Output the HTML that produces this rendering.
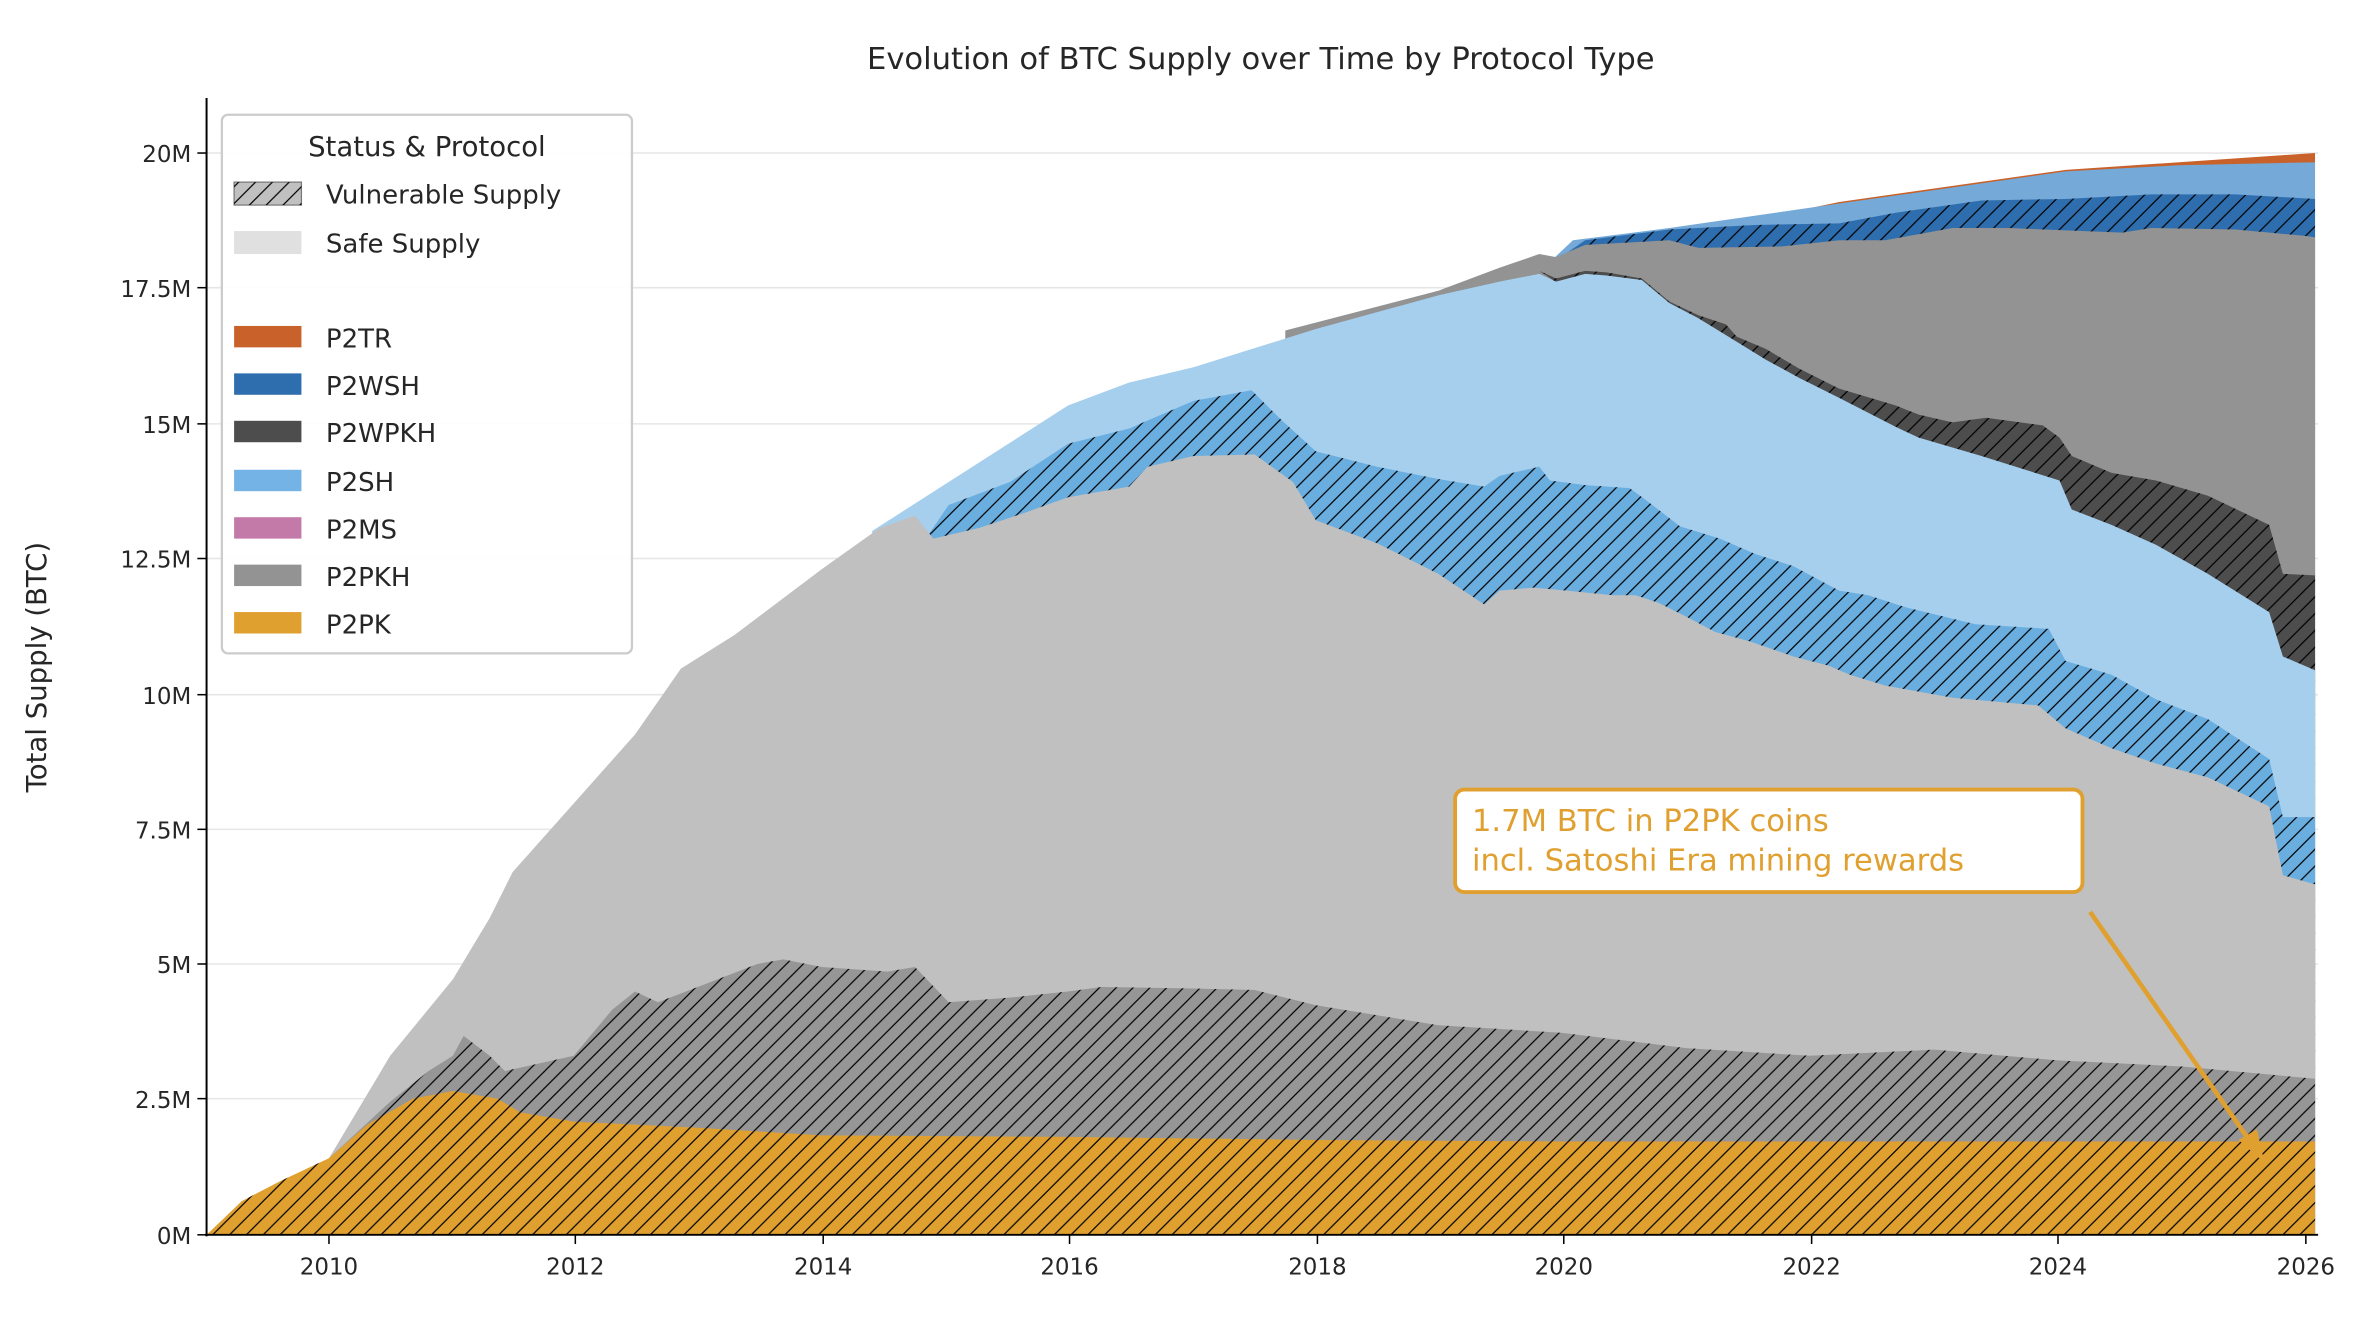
<!DOCTYPE html>
<html><head><meta charset="utf-8"><style>html,body{margin:0;padding:0;background:#fff}svg{display:block}text{font-family:"DejaVu Sans","Liberation Sans",sans-serif;fill:#262626}</style></head><body>
<svg width="2364" height="1319" viewBox="0 0 1545 862" xmlns="http://www.w3.org/2000/svg">
<defs>
<pattern id="h" patternUnits="userSpaceOnUse" width="11" height="11">
<path d="M0,11 L11,0 M-3,3 L3,-3 M8,14 L14,8" stroke="#000" stroke-width="0.8"/>
</pattern>
</defs>
<rect width="1545" height="862" fill="#fff"/>
<g stroke="#e6e6e6" stroke-width="1">
<line x1="135" x2="1515" y1="718" y2="718"/><line x1="135" x2="1515" y1="630" y2="630"/><line x1="135" x2="1515" y1="542" y2="542"/><line x1="135" x2="1515" y1="454" y2="454"/><line x1="135" x2="1515" y1="365" y2="365"/><line x1="135" x2="1515" y1="277" y2="277"/><line x1="135" x2="1515" y1="188" y2="188"/><line x1="135" x2="1515" y1="100" y2="100"/>
</g>
<!-- P2TR -->
<polygon fill="#c8622a" points="1183,136 1202,132 1350,111 1513,100 1513,807 1183,807"/>
<!-- P2WSH safe -->
<polygon fill="#74a9d8" points="1010,174 1028,157 1091,149 1202,133 1350,112 1424,108 1513,106 1513,807 1010,807"/>
<!-- P2WSH vuln -->
<polygon fill="#2f6eae" points="1010,175 1036,157 1091,150 1147,147 1202,146 1239,139 1295,131 1350,130 1406,127 1461,127 1513,130 1513,807 1010,807"/>
<polygon fill="url(#h)" points="1010,175 1036,157 1091,150 1147,147 1202,146 1239,139 1295,131 1350,130 1406,127 1461,127 1513,130 1513,807 1010,807"/>
<!-- P2WPKH safe -->
<polygon fill="#939393" points="840,216 940,190 980,175 1006,166 1017,168 1036,160 1091,157 1110,162 1165,161 1202,157 1232,157 1276,149 1313,149 1387,152 1406,149 1461,150 1505,154 1513,155 1513,807 840,807"/>
<!-- P2WPKH vuln -->
<polygon fill="#4d4d4d" points="1015,183 1006,177 1017,182 1036,177 1050,178 1073,182 1091,197 1110,206 1128,212 1135,220 1154,228 1176,241 1202,254 1239,265 1254,271 1276,276 1298,273 1335,278 1346,286 1354,298 1380,309 1409,314 1443,324 1483,343 1492,375 1513,376 1513,807 1015,807"/>
<polygon fill="url(#h)" points="1015,183 1006,177 1017,182 1036,177 1050,178 1073,182 1091,197 1110,206 1128,212 1135,220 1154,228 1176,241 1202,254 1239,265 1254,271 1276,276 1298,273 1335,278 1346,286 1354,298 1380,309 1409,314 1443,324 1483,343 1492,375 1513,376 1513,807 1015,807"/>
<!-- P2SH safe -->
<polygon fill="#a6cfee" points="570,347 620,315 698,265 738,250 780,240 860,215 940,193 980,184 1006,179 1017,184 1036,179 1050,180 1073,183 1091,198 1110,208 1128,219 1154,235 1176,247 1202,260 1239,279 1254,286 1295,298 1346,314 1354,333 1380,343 1409,356 1443,375 1483,400 1492,429 1513,438 1513,807 570,807"/>
<!-- P2SH vuln -->
<polygon fill="#6aaee0" points="590,345 605,352 620,330 660,315 698,290 738,280 780,262 818,255 838,275 860,295 900,305 940,313 970,318 980,311 1006,305 1013,314 1036,317 1065,319 1076,327 1098,344 1124,352 1147,362 1172,370 1202,386 1221,389 1246,397 1291,408 1339,411 1350,432 1380,441 1409,457 1443,470 1483,496 1492,534 1513,534 1513,807 590,807"/>
<polygon fill="url(#h)" points="590,345 605,352 620,330 660,315 698,290 738,280 780,262 818,255 838,275 860,295 900,305 940,313 970,318 980,311 1006,305 1013,314 1036,317 1065,319 1076,327 1098,344 1124,352 1147,362 1172,370 1202,386 1221,389 1246,397 1291,408 1339,411 1350,432 1380,441 1409,457 1443,470 1483,496 1492,534 1513,534 1513,807 590,807"/>
<!-- P2PKH safe -->
<polygon fill="#c0c0c0" points="135,807 215,757 255,690 296,640 320,600 335,570 375,525 415,480 445,437 480,415 537,372 575,345 598,337 610,352 640,345 670,335 698,325 738,318 750,305 780,298 820,297 845,315 860,340 900,355 940,375 970,395 980,386 1002,384 1024,386 1054,389 1069,389 1084,394 1102,403 1121,413 1143,419 1172,429 1195,435 1209,441 1232,448 1276,456 1332,461 1350,476 1380,489 1409,499 1443,508 1483,527 1492,572 1513,578 1513,807"/>
<!-- P2PKH vuln -->
<polygon fill="#969696" points="135,807 215,757 255,720 280,700 296,690 303,677 320,690 330,700 375,690 400,660 415,648 430,655 456,645 495,630 512,627 537,632 580,635 598,632 620,655 660,652 698,648 720,645 780,646 820,647 860,657 940,670 1021,675 1102,685 1183,690 1264,686 1345,693 1426,697 1513,705 1513,807"/>
<polygon fill="url(#h)" points="135,807 215,757 255,720 280,700 296,690 303,677 320,690 330,700 375,690 400,660 415,648 430,655 456,645 495,630 512,627 537,632 580,635 598,632 620,655 660,652 698,648 720,645 780,646 820,647 860,657 940,670 1021,675 1102,685 1183,690 1264,686 1345,693 1426,697 1513,705 1513,807"/>
<!-- P2PK -->
<polygon fill="#e0a030" points="135,807 158,785 183,772 215,757 240,735 270,718 296,713 325,718 340,727 375,733 456,737 537,742 698,743 860,745 1021,746 1513,746 1513,807"/>
<polygon fill="url(#h)" points="135,807 158,785 183,772 215,757 240,735 270,718 296,713 325,718 340,727 375,733 456,737 537,742 698,743 860,745 1021,746 1513,746 1513,807"/>
<!-- axes -->
<line x1="135" y1="64" x2="135" y2="808" stroke="#000" stroke-width="1.3"/>
<line x1="134" y1="807" x2="1515" y2="807" stroke="#000" stroke-width="1.3"/>
<g stroke="#000" stroke-width="1">
<line x1="129" x2="135" y1="807" y2="807"/><line x1="129" x2="135" y1="718" y2="718"/><line x1="129" x2="135" y1="630" y2="630"/><line x1="129" x2="135" y1="542" y2="542"/><line x1="129" x2="135" y1="454" y2="454"/><line x1="129" x2="135" y1="365" y2="365"/><line x1="129" x2="135" y1="277" y2="277"/><line x1="129" x2="135" y1="188" y2="188"/><line x1="129" x2="135" y1="100" y2="100"/>
<line x1="215" x2="215" y1="807" y2="813"/><line x1="376" x2="376" y1="807" y2="813"/><line x1="538" x2="538" y1="807" y2="813"/><line x1="699" x2="699" y1="807" y2="813"/><line x1="861" x2="861" y1="807" y2="813"/><line x1="1022" x2="1022" y1="807" y2="813"/><line x1="1184" x2="1184" y1="807" y2="813"/><line x1="1345" x2="1345" y1="807" y2="813"/><line x1="1507" x2="1507" y1="807" y2="813"/>
</g>
<g font-size="15" text-anchor="end">
<text x="125" y="813">0M</text><text x="125" y="724">2.5M</text><text x="125" y="636">5M</text><text x="125" y="548">7.5M</text><text x="125" y="460">10M</text><text x="125" y="371">12.5M</text><text x="125" y="283">15M</text><text x="125" y="194">17.5M</text><text x="125" y="106">20M</text>
</g>
<g font-size="15" text-anchor="middle">
<text x="215" y="833">2010</text><text x="376" y="833">2012</text><text x="538" y="833">2014</text><text x="699" y="833">2016</text><text x="861" y="833">2018</text><text x="1022" y="833">2020</text><text x="1184" y="833">2022</text><text x="1345" y="833">2024</text><text x="1507" y="833">2026</text>
</g>
<text x="824" y="45" font-size="20" text-anchor="middle">Evolution of BTC Supply over Time by Protocol Type</text>
<text transform="translate(30,436) rotate(-90)" font-size="18" text-anchor="middle">Total Supply (BTC)</text>
<!-- legend -->
<rect x="145" y="75" width="268" height="352" rx="4" fill="#fff" fill-opacity="0.9" stroke="#cccccc" stroke-width="1.5"/>
<text x="279" y="102" font-size="18" text-anchor="middle">Status &amp; Protocol</text>
<rect x="153" y="119" width="44" height="15" fill="#c0c0c0" stroke="#777" stroke-width="0.8"/>
<rect x="153" y="119" width="44" height="15" fill="url(#h)"/>
<text x="213" y="133" font-size="17">Vulnerable Supply</text>
<rect x="153" y="151" width="44" height="15" fill="#e0e0e0"/>
<text x="213" y="165" font-size="17">Safe Supply</text>
<rect x="153" y="213" width="44" height="14" fill="#c8622a"/><text x="213" y="227" font-size="17">P2TR</text>
<rect x="153" y="244" width="44" height="14" fill="#2f6eae"/><text x="213" y="258" font-size="17">P2WSH</text>
<rect x="153" y="275" width="44" height="14" fill="#4d4d4d"/><text x="213" y="289" font-size="17">P2WPKH</text>
<rect x="153" y="307" width="44" height="14" fill="#74b3e6"/><text x="213" y="321" font-size="17">P2SH</text>
<rect x="153" y="338" width="44" height="14" fill="#c47aa8"/><text x="213" y="352" font-size="17">P2MS</text>
<rect x="153" y="369" width="44" height="14" fill="#939393"/><text x="213" y="383" font-size="17">P2PKH</text>
<rect x="153" y="400" width="44" height="14" fill="#e0a030"/><text x="213" y="414" font-size="17">P2PK</text>
<!-- annotation -->
<line x1="1366" y1="596" x2="1472" y2="748" stroke="#e0a030" stroke-width="3"/>
<polygon points="1480,760 1463,745 1475,738" fill="#e0a030"/>
<rect x="951" y="516" width="410" height="67" rx="6" fill="#fff" stroke="#e0a030" stroke-width="2.5"/>
<text x="962" y="543" font-size="20" style="fill:#e0a030">1.7M BTC in P2PK coins</text>
<text x="962" y="569" font-size="20" style="fill:#e0a030">incl. Satoshi Era mining rewards</text>
</svg>
</body></html>
